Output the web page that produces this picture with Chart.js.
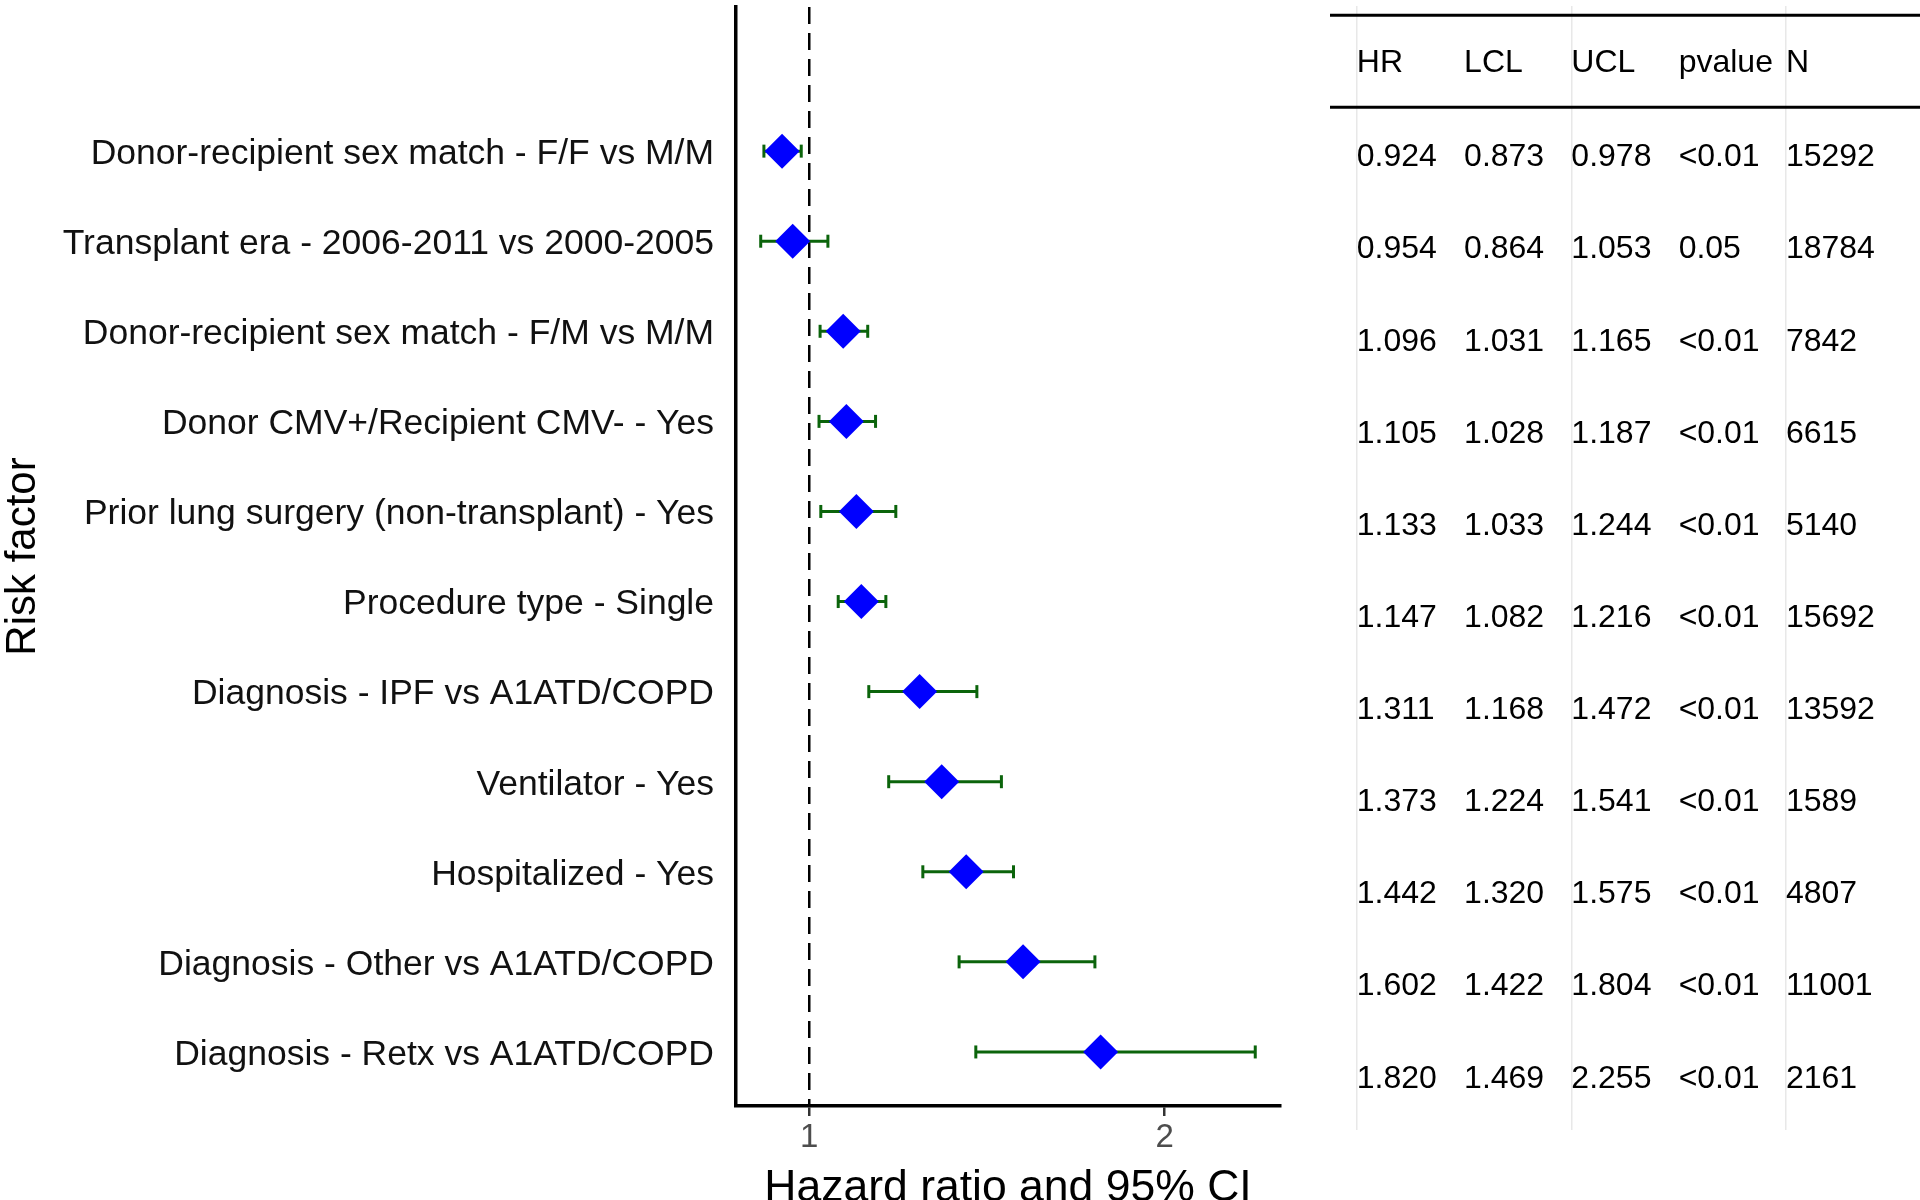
<!DOCTYPE html>
<html>
<head>
<meta charset="utf-8">
<title>Risk factors - hazard ratios</title>
<script src="https://cdn.jsdelivr.net/npm/chart.js@4.4.1/dist/chart.umd.min.js"></script>
<style>
  html, body { margin: 0; padding: 0; background: #fff; overflow: hidden; }
  #wrap { position: relative; width: 1920px; height: 1200px; }
  #forest { position: absolute; left: 0; top: 0; }
  #table { position: absolute; left: 1300px; top: 0; }
</style>
</head>
<body>
<div id="wrap">
  <canvas id="forest" width="1300" height="1230"></canvas>
  <canvas id="table" width="620" height="1200"></canvas>
</div>
<script>
// Data, top row first
const riskFactors = [
    'Donor-recipient sex match - F/F vs M/M',
    'Transplant era - 2006-2011 vs 2000-2005',
    'Donor-recipient sex match - F/M vs M/M',
    'Donor CMV+/Recipient CMV- - Yes',
    'Prior lung surgery (non-transplant) - Yes',
    'Procedure type - Single',
    'Diagnosis - IPF vs A1ATD/COPD',
    'Ventilator - Yes',
    'Hospitalized - Yes',
    'Diagnosis - Other vs A1ATD/COPD',
    'Diagnosis - Retx vs A1ATD/COPD'
];
const hr  = [0.924, 0.954, 1.096, 1.105, 1.133, 1.147, 1.311, 1.373, 1.442, 1.602, 1.820];
const lcl = [0.873, 0.864, 1.031, 1.028, 1.033, 1.082, 1.168, 1.224, 1.320, 1.422, 1.469];
const ucl = [0.978, 1.053, 1.165, 1.187, 1.244, 1.216, 1.472, 1.541, 1.575, 1.804, 2.255];
const pvalue = ['<0.01', '0.05', '<0.01', '<0.01', '<0.01', '<0.01', '<0.01', '<0.01', '<0.01', '<0.01', '<0.01'];
const nPatients = [15292, 18784, 7842, 6615, 5140, 15692, 13592, 1589, 4807, 11001, 2161];
const xTicks = [1, 2];
const tableColumns = ['HR', 'LCL', 'UCL', 'pvalue', 'N'];

const FONT = '"Liberation Sans", Arial, Helvetica, sans-serif';
Chart.defaults.font.family = FONT;

// row 0 is kept empty so the plot lines up with the table header
const Y_MIN = -0.6, Y_MAX = 11.6;

// whiskers: one segment per row, broken by null points
const whiskers = [];
riskFactors.forEach(function(_, i) {
    whiskers.push({x: lcl[i], y: i + 1}, {x: ucl[i], y: i + 1}, {x: null, y: null});
});

const forest = new Chart(document.getElementById('forest'), {
    type: 'scatter',
    data: {
        datasets: [
            {
                label: 'HR',
                data: hr.map((v, i) => ({x: v, y: i + 1})),
                pointStyle: 'rectRot',
                pointRadius: 17.5,
                pointBackgroundColor: '#0000ff',
                pointBorderColor: '#0000ff',
                pointBorderWidth: 0,
                order: 0
            },
            {
                label: '95% CI',
                data: whiskers,
                showLine: true,
                spanGaps: false,
                borderColor: '#0b640b',
                borderWidth: 3,
                pointStyle: 'line',
                pointRotation: 90,
                pointRadius: 6.5,
                pointBorderWidth: 3,
                pointBorderColor: '#0b640b',
                order: 1
            }
        ]
    },
    options: {
        responsive: false,
        animation: false,
        layout: { autoPadding: false, padding: { left: 0, right: 20, top: 7, bottom: 0 } },
        plugins: { legend: { display: false }, tooltip: { enabled: false } },
        scales: {
            x: {
                type: 'linear',
                min: 0.7945,
                max: 2.3246,
                afterBuildTicks: function(s) { s.ticks = xTicks.map(v => ({value: v})); },
                ticks: { color: '#4d4d4d', font: { size: 33 }, padding: 2 },
                grid: {
                    color: c => (c.tick && c.tick.value === 1) ? '#000' : 'rgba(0,0,0,0)',
                    lineWidth: 2.5,
                    drawTicks: true,
                    tickLength: 10,
                    tickColor: '#333',
                    tickWidth: 2.5
                },
                border: { display: true, color: '#000', width: 3.5, dash: [17, 9] },
                title: {
                    display: true,
                    text: 'Hazard ratio and 95% CI',
                    color: '#000',
                    font: { size: 44.5 },
                    padding: { top: 0, bottom: 15 }
                },
                afterFit: function(s) { s.height = 124; s.paddingLeft = 0; s.paddingRight = 0; }
            },
            y: {
                type: 'linear',
                reverse: true,
                min: Y_MIN,
                max: Y_MAX,
                afterBuildTicks: function(s) { s.ticks = riskFactors.map((_, i) => ({value: i + 1})); },
                ticks: {
                    autoSkip: false,
                    color: '#111',
                    font: { size: 35.5 },
                    padding: 22,
                    labelOffset: 3,
                    callback: v => riskFactors[v - 1]
                },
                grid: { display: false, drawTicks: false },
                border: { display: true, color: '#000', width: 3.5 },
                title: {
                    display: true,
                    text: 'Risk factor',
                    color: '#000',
                    font: { size: 42, lineHeight: 1.1 },
                    padding: 0
                },
                afterFit: function(s) { s.width = 736; s.paddingTop = 0; s.paddingBottom = 0; }
            }
        }
    }
});

// table on the right, same row positions as the plot
const TABLE_X_MIN = 0.75, TABLE_X_MAX = 6.25;

const tableText = {
    id: 'tableText',
    afterDatasetsDraw: function(chart) {
        const ctx = chart.ctx;
        const x = chart.scales.x, y = chart.scales.y;
        ctx.save();
        ctx.font = '32px ' + FONT;
        ctx.fillStyle = '#000';
        ctx.textAlign = 'left';
        ctx.textBaseline = 'middle';
        tableColumns.forEach(function(name, c) {
            ctx.fillText(name, x.getPixelForValue(c + 1), y.getPixelForValue(0) + 2);
        });
        riskFactors.forEach(function(_, i) {
            const cells = [hr[i].toFixed(3), lcl[i].toFixed(3), ucl[i].toFixed(3), pvalue[i], String(nPatients[i])];
            cells.forEach(function(txt, c) {
                ctx.fillText(txt, x.getPixelForValue(c + 1), y.getPixelForValue(i + 1) + 4);
            });
        });
        ctx.restore();
    }
};

const table = new Chart(document.getElementById('table'), {
    type: 'scatter',
    data: {
        datasets: [
            {
                data: [{x: TABLE_X_MIN, y: -0.5}, {x: TABLE_X_MAX, y: -0.5}],
                showLine: true, borderColor: '#000', borderWidth: 3, pointRadius: 0
            },
            {
                data: [{x: TABLE_X_MIN, y: 0.5}, {x: TABLE_X_MAX, y: 0.5}],
                showLine: true, borderColor: '#000', borderWidth: 3, pointRadius: 0
            }
        ]
    },
    options: {
        responsive: false,
        animation: false,
        layout: { autoPadding: false, padding: { left: 30, right: 0, top: 6, bottom: 70 } },
        plugins: { legend: { display: false }, tooltip: { enabled: false } },
        scales: {
            x: {
                type: 'linear',
                min: TABLE_X_MIN,
                max: TABLE_X_MAX,
                afterBuildTicks: function(s) { s.ticks = [1, 3, 5].map(v => ({value: v})); },
                ticks: { display: false },
                grid: { color: '#e8e8e8', lineWidth: 1.5, drawTicks: false },
                border: { display: false },
                afterFit: function(s) { s.height = 0; s.paddingLeft = 0; s.paddingRight = 0; }
            },
            y: {
                type: 'linear',
                display: false,
                reverse: true,
                min: Y_MIN,
                max: Y_MAX
            }
        }
    },
    plugins: [tableText]
});
</script>
</body>
</html>
